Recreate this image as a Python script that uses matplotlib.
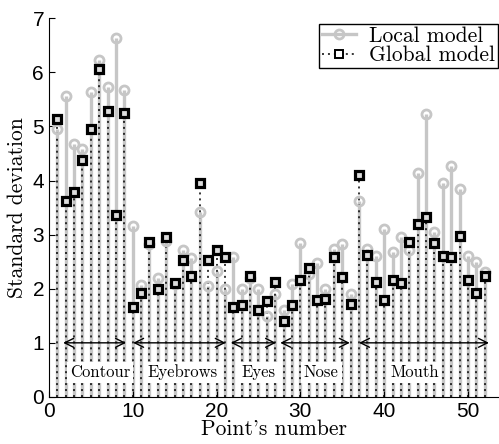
import numpy as np
import matplotlib
matplotlib.use("Agg")
import matplotlib.pyplot as plt
from matplotlib.lines import Line2D
from matplotlib.legend_handler import HandlerLine2D

# --- data -----------------------------------------------------------------
points = np.arange(1, 53)

local_model = [
    4.96, 5.57, 4.68, 4.58, 5.63, 6.23, 5.72, 6.63, 5.68, 3.16,
    2.07, 2.82, 2.19, 2.88, 2.08, 2.72, 2.56, 3.42, 2.05, 2.33,
    1.99, 2.58, 2.00, 2.20, 1.99, 1.50, 1.90, 1.60, 2.08, 2.84,
    2.28, 2.47, 2.00, 2.74, 2.82, 1.90, 3.62, 2.74, 2.61, 3.11,
    2.67, 2.96, 2.71, 4.13, 5.23, 3.05, 3.95, 4.27, 3.84, 2.61,
    2.50, 2.31,
]

global_model = [
    5.13, 3.63, 3.78, 4.37, 4.96, 6.06, 5.28, 3.36, 5.25, 1.67,
    1.93, 2.86, 1.99, 2.95, 2.11, 2.54, 2.24, 3.95, 2.54, 2.72,
    2.59, 1.67, 1.70, 2.24, 1.61, 1.78, 2.12, 1.40, 1.70, 2.16,
    2.39, 1.79, 1.81, 2.59, 2.22, 1.72, 4.11, 2.63, 2.12, 1.80,
    2.16, 2.10, 2.87, 3.19, 3.32, 2.85, 2.61, 2.59, 2.97, 2.17,
    1.93, 2.24,
]

regions = ["Contour", "Eyebrows", "Eyes", "Nose", "Mouth"]
region_start = [1.7, 10.05, 21.7, 27.6, 37.0]
region_end = [9.2, 21.1, 27.1, 35.9, 52.5]
region_label_x = [6.1, 16.0, 25.0, 32.5, 43.6]

GRAY = "#c6c6c6"
SERIF = "cmr10"
SANS = "Liberation Sans"


class MarkerAtEnd(HandlerLine2D):
    # legend handle: line first, marker at the right end
    def get_xdata(self, legend, xdescent, ydescent, width, height, fontsize):
        return [-xdescent, -xdescent + width], [-xdescent + width]


fig = plt.figure(figsize=(4.99, 4.44), dpi=100)
ax = fig.add_axes([0.098, 0.106, 0.902, 0.853])

# stems
ax.vlines(points, 0, local_model, color=GRAY, lw=2.4, zorder=1)
ax.vlines(points, 0, global_model, color="black", lw=1.1,
          linestyles=(0, (1.3, 2.6)), zorder=2)
ax.plot(points, local_model, ls="none", marker="o", ms=6.5, mew=2.0,
        mec=GRAY, mfc="none", zorder=3)
ax.plot(points, global_model, ls="none", marker="s", ms=6.3, mew=2.3,
        mec="black", mfc="#dcdcdc", zorder=4)

# facial regions
for name, x0, x1, xl in zip(regions, region_start, region_end, region_label_x):
    ax.annotate("", xy=(x0, 1.0), xytext=(x1, 1.0),
                arrowprops=dict(arrowstyle="<->", color="black", lw=1.0,
                                shrinkA=0, shrinkB=0,
                                mutation_scale=16), zorder=5)
    ax.text(xl, 0.45, name, ha="center", va="center", fontsize=12,
            family=SERIF, zorder=5,
            bbox=dict(facecolor="white", edgecolor="none", pad=2.0))

ax.set_xlim(0, 53.7)
ax.set_ylim(0, 7)
ax.set_xticks([0, 10, 20, 30, 40, 50])
ax.set_yticks(range(8))
ax.tick_params(direction="in", length=4, labelsize=15)
for lab in ax.get_xticklabels() + ax.get_yticklabels():
    lab.set_family(SANS)
ax.spines["top"].set_visible(False)
ax.spines["right"].set_visible(False)

ax.set_xlabel("Point's number", family=SERIF, fontsize=15.5, labelpad=-1)
ax.set_ylabel("Standard deviation", family=SERIF, fontsize=15.5, labelpad=4)

h_local = Line2D([], [], color=GRAY, lw=2.4, marker="o", ms=6.5, mew=2.0,
                 mec=GRAY, mfc="none")
h_global = Line2D([], [], color="black", lw=1.1, ls=(0, (1.3, 2.6)),
                  marker="s", ms=6.0, mew=1.4, mec="black", mfc="white")
leg = ax.legend([h_local, h_global], ["Local model", "Global model"],
                loc="upper right", bbox_to_anchor=(0.997, 0.985),
                borderaxespad=0, prop={"family": SERIF, "size": 15.5},
                handlelength=1.6, handletextpad=0.6, labelspacing=0.0,
                borderpad=0.12, fancybox=False, framealpha=1,
                handler_map={Line2D: MarkerAtEnd()})
leg.get_frame().set_edgecolor("black")
leg.get_frame().set_linewidth(1.0)

fig.savefig("out.png", dpi=100)
